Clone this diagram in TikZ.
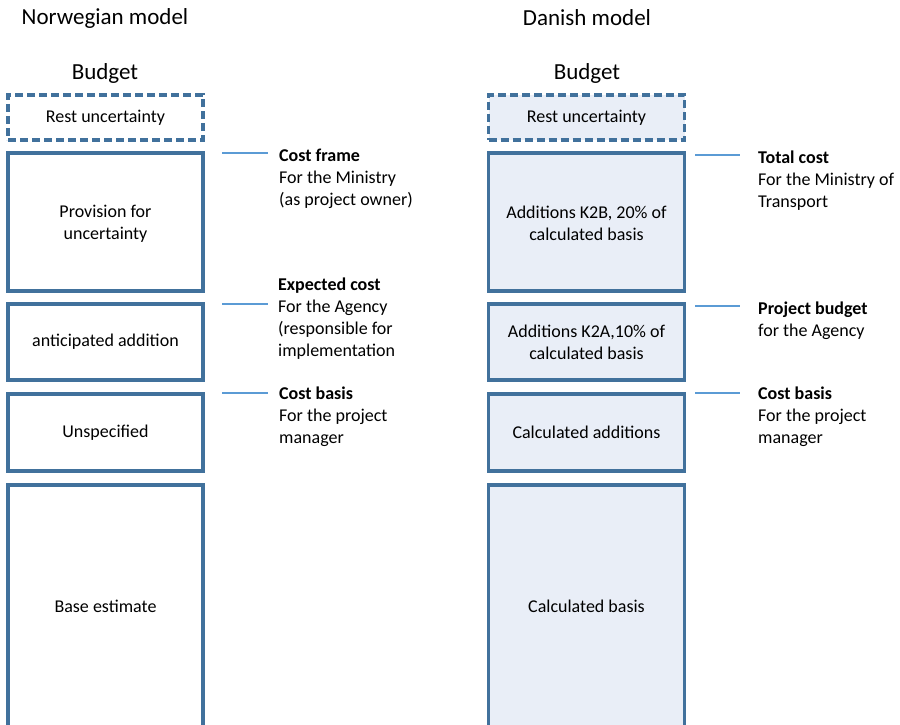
\documentclass[tikz,border=0pt]{standalone}
\usepackage{fontspec}
\setmainfont{Carlito}
\begin{document}
\begin{tikzpicture}[x=1pt,y=-1pt,
  every node/.style={font=\fontsize{18}{22}\selectfont, align=center},
  frame/.style={draw=boxblue, line width=3.2pt, inner sep=0pt, outer sep=0pt},
  dframe/.style={frame, dash pattern=on 8pt off 4pt},
  dk/.style={fill=paleblue},
  title/.style={font=\fontsize{23}{27}\selectfont},
  label/.style={anchor=north west, inner sep=0pt, align=left},
  tick/.style={draw=tickblue, line width=1.9pt}]
\definecolor{boxblue}{HTML}{41719C}
\definecolor{paleblue}{HTML}{E9EEF7}
\definecolor{tickblue}{HTML}{5B9BD5}
\useasboundingbox (0,0) rectangle (900,725);

% column headings
\node[title] (tn) at (105,18) {Norwegian model};
\node[title] (td) at (587,18) {Danish model};
\node[title] (bn) at (105,73) {Budget};
\node[title] (bd) at (587,73) {Budget};

% Norwegian model stack
\node[dframe, minimum width=195, minimum height=45] (n0) at (105.5,117.5) {Rest uncertainty};
\node[frame, minimum width=195, minimum height=138] (n1) at (105.5,222) {};
\node (n1t) at (105.5,223.5) {Provision for\\uncertainty};
\node[frame, minimum width=195, minimum height=76] (n2) at (105.5,342) {anticipated addition};
\node[frame, minimum width=195, minimum height=77] (n3) at (105.5,432.5) {Unspecified};
\node[frame, minimum width=195, minimum height=250] (n4) at (105.5,610) {};
\node (n4t) at (105.5,606) {Base estimate};

% Danish model stack
\node[dframe, dk, minimum width=196, minimum height=45] (d0) at (586.5,117.5) {Rest uncertainty};
\node[frame, dk, minimum width=196, minimum height=138] (d1) at (586.5,222) {};
\node (d1t) at (586.5,223.5) {Additions K2B, 20\% of\\calculated basis};
\node[frame, dk, minimum width=196, minimum height=76] (d2) at (586.5,342) {Additions K2A,10\% of\\calculated basis};
\node[frame, dk, minimum width=196, minimum height=77] (d3) at (586.5,432.5) {Calculated additions};
\node[frame, dk, minimum width=196, minimum height=250] (d4) at (586.5,610) {};
\node (d4t) at (586.5,606) {Calculated basis};

% Norwegian labels
\node[label] (ln1) at (279,149) {\textbf{Cost frame}\\For the Ministry\\(as project owner)};
\node[label] (ln2) at (278,278) {\textbf{Expected cost}\\For the Agency\\(responsible for\\implementation};
\node[label] (ln3) at (279,387) {\textbf{Cost basis}\\For the project\\manager};

% Danish labels
\node[label] (ld1) at (758,151) {\textbf{Total cost}\\For the Ministry of\\Transport};
\node[label] (ld2) at (758,302) {\textbf{Project budget}\\for the Agency};
\node[label] (ld3) at (758,387) {\textbf{Cost basis}\\For the project\\manager};

% level markers
\coordinate (a1) at (222,153); \coordinate (b1) at (268,153);
\coordinate (a2) at (222,304); \coordinate (b2) at (268,304);
\coordinate (a3) at (222,393); \coordinate (b3) at (268,393);
\coordinate (c1) at (695,155); \coordinate (e1) at (740,155);
\coordinate (c2) at (695,306); \coordinate (e2) at (740,306);
\coordinate (c3) at (695,393); \coordinate (e3) at (740,393);
\draw[tick] (a1) -- (b1);
\draw[tick] (a2) -- (b2);
\draw[tick] (a3) -- (b3);
\draw[tick] (c1) -- (e1);
\draw[tick] (c2) -- (e2);
\draw[tick] (c3) -- (e3);
\end{tikzpicture}
\end{document}
